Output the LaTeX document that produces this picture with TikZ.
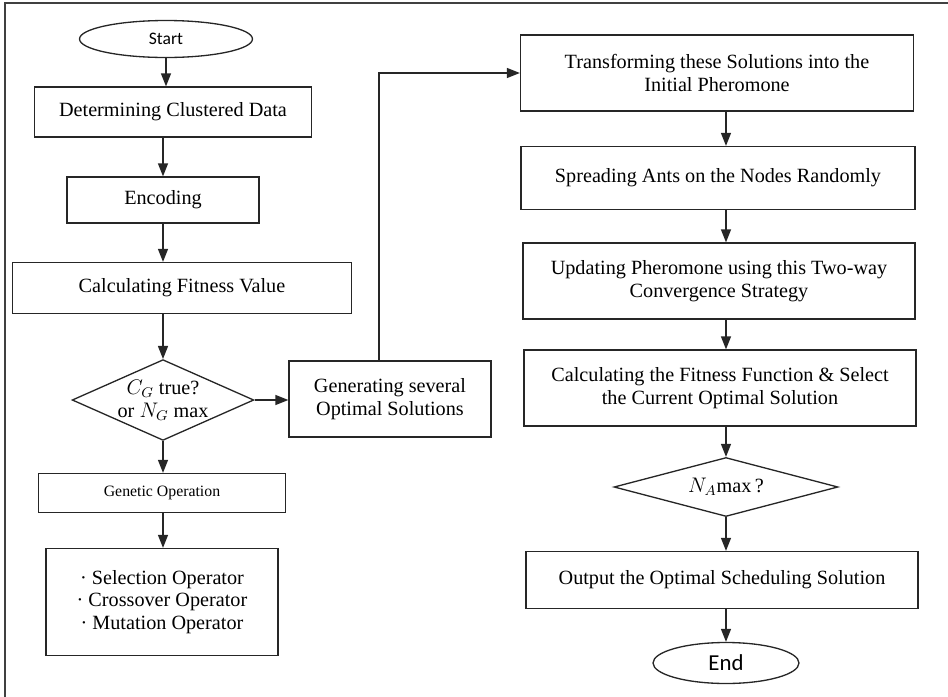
\documentclass[tikz,border=0pt]{standalone}
\usepackage{fontspec}
\setmainfont{Liberation Serif}
\newfontfamily\termfont{Carlito}
\usepackage{tikz}
\usetikzlibrary{arrows.meta,shapes.geometric}
\tikzset{
  flownode/.style = {align=center, inner sep=0pt, text centered, draw=black!85, line width=0.75pt, font=\fontsize{11.5}{13}\selectfont},
  StepBox/.style = {flownode, rectangle},
  TermNode/.style = {flownode, ellipse, font=\termfont},
  Decision/.style = {flownode, diamond, aspect=#1},
  flowarrow/.style = {draw=black!85, line width=0.75pt, -{Triangle[length=2.6mm,width=2mm]}}
}

\begin{document}
\begin{tikzpicture}[x=0.02cm,y=-0.02cm]
    \useasboundingbox (0,0) rectangle (948,697);
    \draw[black!75, line width=0.8pt] (5,697) |- (948,3);
    % genetic part
    \node [TermNode, minimum width=3.46cm, minimum height=0.74cm, font=\termfont\fontsize{10}{12}\selectfont] (start) at (166,39) {Start};
    \node [StepBox, minimum width=5.54cm, minimum height=1.0cm] (clust) at (173,112) {Determining Clustered Data};
    \node [StepBox, minimum width=3.84cm, minimum height=0.92cm] (enc) at (163,200) {Encoding};
    \node [StepBox, minimum width=6.78cm, minimum height=1.02cm] (fit) at (182,288) {Calculating Fitness Value};
    \node [Decision=2.25, minimum width=3.56cm, minimum height=1.58cm] (checkG) at (163,400) {$C_G$ true?\\or $N_G$ max};
    \node [StepBox, minimum width=4.04cm, minimum height=1.52cm] (gen) at (390,399) {Generating several\\Optimal Solutions};
    \node [StepBox, minimum width=4.94cm, minimum height=0.78cm, font=\fontsize{9}{11}\selectfont] (genop) at (162,493) {Genetic Operation};
    \node [StepBox, minimum width=4.64cm, minimum height=2.14cm] (ops) at (162,602) {· Selection Operator\\· Crossover Operator\\· Mutation Operator};
    % ant colony part
    \node [StepBox, minimum width=7.86cm, minimum height=1.52cm] (trans) at (717,73) {Transforming these Solutions into the\\Initial Pheromone};
    \node [StepBox, minimum width=7.88cm, minimum height=1.26cm] (spread) at (718,178) {Spreading Ants on the Nodes Randomly};
    \node [StepBox, minimum width=7.84cm, minimum height=1.52cm] (upd) at (719,281) {Updating Pheromone using this Two-way\\Convergence Strategy};
    \node [StepBox, minimum width=7.84cm, minimum height=1.52cm] (calc) at (720,388) {Calculating the Fitness Function \& Select\\the Current Optimal Solution};
    \node [Decision=3.8, minimum width=4.48cm, minimum height=1.18cm] (checkA) at (726,487) {$N_A$max\,?};
    \node [StepBox, minimum width=7.84cm, minimum height=1.14cm] (out) at (722,580) {Output the Optimal Scheduling Solution};
    \node [TermNode, minimum width=2.92cm, minimum height=0.82cm, font=\termfont\fontsize{13}{15}\selectfont] (end) at (726,663) {End};

    \draw[flowarrow] (start) -- (start |- clust.north);
    \draw[flowarrow] (checkG |- clust.south) -- (checkG |- enc.north);
    \draw[flowarrow] (checkG |- enc.south) -- (checkG |- fit.north);
    \draw[flowarrow] (checkG |- fit.south) -- (checkG.north);
    \draw[flowarrow] (checkG.south) -- (checkG |- genop.north);
    \draw[flowarrow] (checkG |- genop.south) -- (checkG |- ops.north);
    \draw[flowarrow] (checkG.east) -- (checkG.east -| gen.west);
    \draw[flowarrow] ([xshift=-0.22cm]gen.north) |- (trans.west);
    \draw[flowarrow] (checkA |- trans.south) -- (checkA |- spread.north);
    \draw[flowarrow] (checkA |- spread.south) -- (checkA |- upd.north);
    \draw[flowarrow] (checkA |- upd.south) -- (checkA |- calc.north);
    \draw[flowarrow] (checkA |- calc.south) -- (checkA.north);
    \draw[flowarrow] (checkA.south) -- (checkA |- out.north);
    \draw[flowarrow] (checkA |- out.south) -- (end.north);
\end{tikzpicture}
\end{document}
